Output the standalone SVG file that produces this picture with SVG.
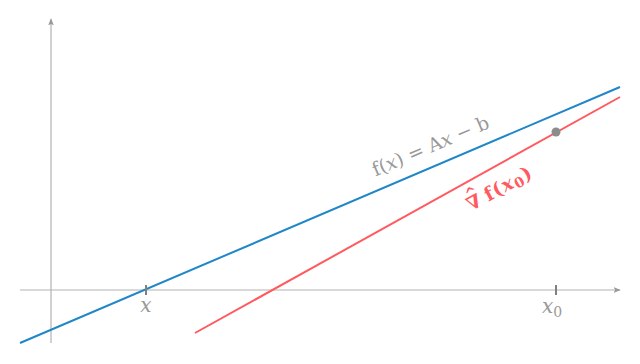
<svg xmlns="http://www.w3.org/2000/svg" width="640" height="364" viewBox="0 0 640 364">
<style>
.axis{stroke:#b3b3b3;stroke-width:1.2;fill:none}
.tick{stroke:#808080;stroke-width:2}
</style>
<defs>
<marker id="arr" viewBox="0 0 10 10" refX="9" refY="5" markerWidth="7" markerHeight="7" orient="auto" markerUnits="userSpaceOnUse">
<path d="M0,1 L10,5 L0,9 L2,5 Z" fill="#999"/>
</marker>
</defs>
<g id="axes">
<line class="axis" x1="20" y1="290" x2="620" y2="290" marker-end="url(#arr)"/>
<line class="axis" x1="51" y1="343" x2="51" y2="19" marker-end="url(#arr)"/>
</g>
<g id="connectors">
<line x1="20" y1="343" x2="620" y2="87" stroke="#1f86c8" stroke-width="2"/>
<line x1="195" y1="333" x2="620" y2="97" stroke="#ff5a5f" stroke-width="2"/>
</g>
<g id="ticks">
<line class="tick" x1="146" y1="285" x2="146" y2="295"/>
<line class="tick" x1="556" y1="285" x2="556" y2="295"/>
</g>
<g id="labels" font-family="DejaVu Serif, serif" fill="#999" font-size="20">
<text x="146" y="312" text-anchor="middle" font-style="italic">x</text>
<text x="552" y="313" text-anchor="middle" font-style="italic">x<tspan font-style="normal" font-size="14" dy="4">0</tspan></text>
<text transform="translate(433,152) rotate(-23.1)" text-anchor="middle" font-size="19">f(<tspan font-style="italic">x</tspan>) = A<tspan font-style="italic">x</tspan> − b</text>
<g transform="translate(506,192) rotate(-29)" fill="#ff5a5f" font-weight="bold" font-size="19">
<text x="-40" y="0">∇</text>
<text x="-37" y="-11" font-size="15">^</text>
<text x="-20" y="0" letter-spacing="1">f(<tspan font-style="italic">x</tspan><tspan font-size="14" dy="3">0</tspan><tspan dy="-3">)</tspan></text>
</g>
</g>
<g id="point">
<circle cx="556" cy="132" r="4.5" fill="#8c8c8c"/>
</g>
</svg>
